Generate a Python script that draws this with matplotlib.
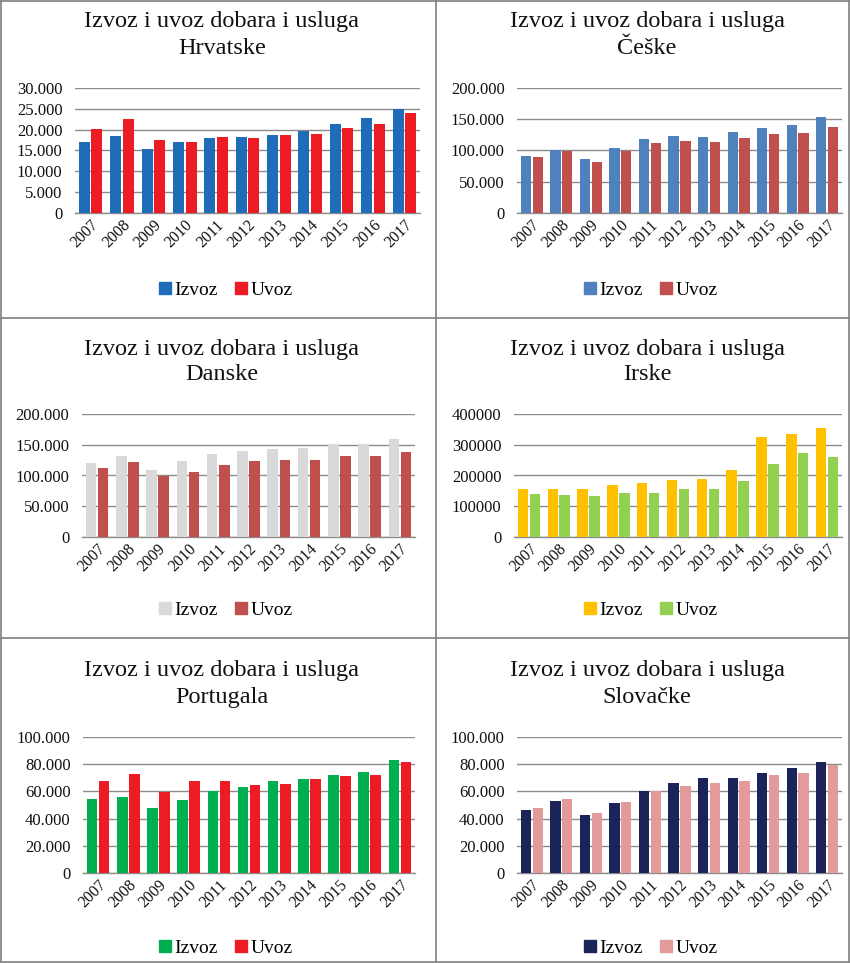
import matplotlib
matplotlib.use("Agg")
import matplotlib.pyplot as plt
from matplotlib.ticker import FuncFormatter
from matplotlib.lines import Line2D
import numpy as np

years = ["2007", "2008", "2009", "2010", "2011", "2012", "2013", "2014", "2015", "2016", "2017"]
series_names = ["Izvoz", "Uvoz"]

hr_izvoz = [17100, 18500, 15400, 17050, 18100, 18200, 18750, 19600, 21400, 22700, 24950]
hr_uvoz = [20200, 22450, 17400, 17150, 18200, 18050, 18600, 18900, 20350, 21400, 24050]

cz_izvoz = [91700, 101300, 86900, 103500, 118000, 122800, 121700, 129200, 135700, 140000, 152800]
cz_uvoz = [89000, 99200, 82000, 99200, 111500, 115800, 113100, 120100, 126000, 127600, 138300]

dk_izvoz = [119600, 131000, 109200, 123400, 134200, 139700, 142400, 145100, 150500, 150500, 159200]
dk_uvoz = [112500, 121200, 98400, 105400, 116800, 122800, 124500, 125500, 131500, 131500, 138600]

ie_izvoz = [156500, 156500, 156500, 170700, 175000, 184800, 188000, 218500, 326100, 335900, 354300]
ie_uvoz = [141300, 138000, 132600, 143500, 143500, 156500, 156500, 183700, 238000, 272800, 258700]

pt_izvoz = [54400, 55600, 47800, 53700, 60500, 63400, 67300, 69300, 72400, 74100, 83200]
pt_uvoz = [67800, 72900, 59500, 67300, 67800, 64600, 65600, 68800, 71500, 72000, 81500]

sk_izvoz = [46600, 52700, 42900, 51200, 60000, 66300, 69500, 69500, 73200, 77100, 81700]
sk_uvoz = [47800, 54600, 44100, 52200, 60500, 64100, 66300, 67300, 72000, 73700, 79300]

W, H = 850, 963
fig = plt.figure(figsize=(W / 100, H / 100), dpi=100)
SERIF = ["Liberation Serif", "DejaVu Serif"]
plt.rcParams["font.family"] = SERIF


def fx(x):
    return x / W


def fy(y):
    return 1 - y / H


def dot_fmt(v, pos):
    if v == 0:
        return "0"
    return f"{int(round(v)):,}".replace(",", ".")


def plain_fmt(v, pos):
    return f"{int(round(v))}"


panels = [
    dict(country="Hrvatske", iz=hr_izvoz, uv=hr_uvoz, c=("#1F6DB8", "#ED1C24"),
         ymax=30000, step=5000, fmt=dot_fmt,
         ax=(75, 88, 420, 213), px=(0, 436), title_y=(22, 48), leg_y=290),
    dict(country="Češke", iz=cz_izvoz, uv=cz_uvoz, c=("#4F81BD", "#C0504D"),
         ymax=200000, step=50000, fmt=dot_fmt,
         ax=(517, 88, 842, 213), px=(436, 850), title_y=(22, 48), leg_y=290),
    dict(country="Danske", iz=dk_izvoz, uv=dk_uvoz, c=("#D9D9D9", "#C0504D"),
         ymax=200000, step=50000, fmt=dot_fmt,
         ax=(82, 414, 415, 537), px=(0, 436), title_y=(349, 375), leg_y=610),
    dict(country="Irske", iz=ie_izvoz, uv=ie_uvoz, c=("#FFC000", "#92D050"),
         ymax=400000, step=100000, fmt=plain_fmt,
         ax=(514, 414, 842, 537), px=(436, 850), title_y=(349, 375), leg_y=610),
    dict(country="Portugala", iz=pt_izvoz, uv=pt_uvoz, c=("#00B050", "#ED1C24"),
         ymax=100000, step=20000, fmt=dot_fmt,
         ax=(83, 737, 415, 873), px=(0, 436), title_y=(670, 697), leg_y=948),
    dict(country="Slovačke", iz=sk_izvoz, uv=sk_uvoz, c=("#1B2459", "#E39A9A"),
         ymax=100000, step=20000, fmt=dot_fmt,
         ax=(517, 737, 842, 873), px=(436, 850), title_y=(670, 697), leg_y=948),
]

x = np.arange(len(years))
bw = 0.35
off = 0.2

for p in panels:
    l, t, r, b = p["ax"]
    ax = fig.add_axes([fx(l), fy(b), (r - l) / W, (b - t) / H])
    ax.bar(x - off, p["iz"], width=bw, color=p["c"][0], zorder=3)
    ax.bar(x + off, p["uv"], width=bw, color=p["c"][1], zorder=3)
    ax.set_xlim(-0.5, len(years) - 0.5)
    ax.set_ylim(0, p["ymax"])
    ax.set_yticks(np.arange(0, p["ymax"] + 1, p["step"]))
    ax.yaxis.set_major_formatter(FuncFormatter(p["fmt"]))
    ax.yaxis.grid(True, color="#8C8C8C", linewidth=1.0, zorder=0)
    ax.set_axisbelow(True)
    for s in ["top", "right", "left"]:
        ax.spines[s].set_visible(False)
    ax.spines["bottom"].set_color("#8C8C8C")
    ax.spines["bottom"].set_linewidth(1.0)
    ax.tick_params(axis="y", length=0, labelsize=12, pad=9, colors="#111111")
    ax.tick_params(axis="x", length=0, labelsize=11.5, pad=3, colors="#111111")
    ax.set_xticks(x)
    ax.set_xticklabels(years, rotation=45, ha="right", rotation_mode="anchor")
    for lab in ax.get_xticklabels():
        lab.set_x(lab.get_position()[0])
    ax.set_facecolor("none")

    cx = (p["px"][0] + p["px"][1]) / 2
    fig.text(fx(cx + 4), fy(p["title_y"][0]), "Izvoz i uvoz dobara i usluga",
             ha="center", va="center", fontsize=17.5, color="#111111")
    fig.text(fx(cx + 4), fy(p["title_y"][1]), p["country"],
             ha="center", va="center", fontsize=17.5, color="#111111")

    handles = [Line2D([], [], marker="s", linestyle="none", markersize=8,
                      markerfacecolor=p["c"][i], markeredgecolor=p["c"][i])
               for i in range(2)]
    fig.legend(handles, series_names, loc="center", ncol=2,
               bbox_to_anchor=(fx(cx + 8), fy(p["leg_y"])), frameon=False,
               fontsize=14, handlelength=0.6, handletextpad=0.2,
               columnspacing=0.9, borderaxespad=0)

# panel borders
bc = "#7F7F7F"
fig.add_artist(Line2D([fx(1), fx(849)], [fy(1), fy(1)], color=bc, lw=1.2))
fig.add_artist(Line2D([fx(1), fx(849)], [fy(962), fy(962)], color=bc, lw=1.2))
fig.add_artist(Line2D([fx(1), fx(1)], [fy(1), fy(962)], color=bc, lw=1.2))
fig.add_artist(Line2D([fx(849), fx(849)], [fy(1), fy(962)], color=bc, lw=1.2))
fig.add_artist(Line2D([fx(436), fx(436)], [fy(1), fy(962)], color=bc, lw=1.2))
fig.add_artist(Line2D([fx(1), fx(849)], [fy(318), fy(318)], color=bc, lw=1.2))
fig.add_artist(Line2D([fx(1), fx(849)], [fy(638), fy(638)], color=bc, lw=1.2))

fig.savefig("out.png", dpi=100)
